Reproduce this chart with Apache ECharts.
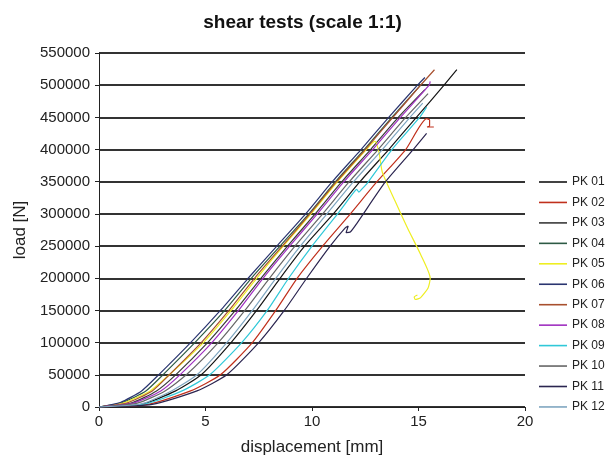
<!DOCTYPE html>
<html>
<head>
<meta charset="utf-8">
<script src="https://cdn.jsdelivr.net/npm/echarts/dist/echarts.min.js"></script>
<style>
  html, body { margin: 0; padding: 0; background: #fff; }
  #chart { width: 605px; height: 462px; }
</style>
</head>
<body>
<div id="chart"></div>
<script>
// [displacement mm, load N]
const pk01 = [[0,0],[2.0,4000],[3.6,25000],[4.8,50000],[6.2,100000],[7.4,150000],[8.5,200000],[9.65,250000],[11.0,300000],[12.25,350000],[13.6,400000],[14.9,450000],[16.2,500000],[16.8,524000]]
const pk02 = [[0,0],[2.3,4000],[4.3,25000],[5.7,50000],[7.2,100000],[8.3,150000],[9.3,200000],[10.5,250000],[11.8,300000],[13.05,350000],[14.4,400000],[15.38,448000],[15.52,446000],[15.52,437000],[15.4,435000],[15.72,435000]]
const pk03 = [[0,0],[1.5,6000],[2.7,25000],[3.6,50000],[5.1,100000],[6.4,150000],[7.6,200000],[8.85,250000],[10.15,300000],[11.4,350000],[12.75,400000],[14.05,450000],[15.3,493000]]
const pk04 = [[0,0],[1.1,7000],[2.2,25000],[3.0,50000],[4.5,100000],[5.9,150000],[7.15,200000],[8.5,250000],[9.85,300000],[11.1,350000],[12.45,400000],[13.75,450000],[15.15,502000]]
const pk05 = [[0,0],[1.2,7000],[2.4,25000],[3.3,50000],[4.9,100000],[6.2,150000],[7.4,200000],[8.65,250000],[9.95,300000],[11.2,350000],[12.55,400000],[12.95,413000],[13.15,395000],[13.3,365000],[13.9,320000],[14.5,277000],[15.1,237000],[15.55,200000],[15.45,185000],[15.1,170000],[14.85,167000],[14.8,171000],[14.95,174000]]
const pk06 = [[0,0],[1.0,7000],[2.0,25000],[2.8,50000],[4.3,100000],[5.7,150000],[7.0,200000],[8.35,250000],[9.7,300000],[10.95,350000],[12.3,400000],[13.6,450000],[14.95,500000],[15.3,512000]]
const pk07 = [[0,0],[1.3,6000],[2.5,25000],[3.3,50000],[4.8,100000],[6.1,150000],[7.3,200000],[8.6,250000],[9.9,300000],[11.15,350000],[12.5,400000],[13.8,450000],[15.1,500000],[15.75,524000]]
const pk08 = [[0,0],[1.6,6000],[2.9,25000],[3.8,50000],[5.3,100000],[6.55,150000],[7.7,200000],[8.95,250000],[10.25,300000],[11.5,350000],[12.85,400000],[14.15,450000],[15.5,500000],[15.55,506000]]
const pk09 = [[0,0],[2.2,5000],[3.9,25000],[5.2,50000],[6.7,100000],[7.9,150000],[8.9,200000],[10.0,250000],[11.2,300000],[11.95,333000],[12.1,338000],[12.2,334000],[12.35,339000],[12.6,348000],[13.75,400000],[15.05,450000],[15.38,466000]]
const pk10 = [[0,0],[1.8,6000],[3.1,25000],[4.1,50000],[5.6,100000],[6.85,150000],[8.0,200000],[9.2,250000],[10.5,300000],[11.75,350000],[13.1,400000],[14.4,450000],[15.45,487000]]
const pk11 = [[0,0],[2.5,4000],[4.6,25000],[6.0,50000],[7.5,100000],[8.7,150000],[9.75,200000],[10.85,250000],[11.55,278000],[11.7,281000],[11.6,271000],[11.8,272000],[12.1,285000],[13.45,350000],[14.75,400000],[15.38,425000]]
const pk12 = [[0,0],[2.0,5000],[3.4,25000],[4.6,50000],[6.0,100000],[7.2,150000],[8.3,200000],[9.45,250000],[10.7,300000],[11.95,350000],[13.3,400000],[14.6,450000],[15.2,472000]]

const names = ['PK 01', 'PK 02', 'PK 03', 'PK 04', 'PK 05', 'PK 06', 'PK 07', 'PK 08', 'PK 09', 'PK 10', 'PK 11', 'PK 12']
const curves = [pk01, pk02, pk03, pk04, pk05, pk06, pk07, pk08, pk09, pk10, pk11, pk12]
const colors = ['#151515', '#c0301c', '#3a3a3a', '#2d5a45', '#eeee22', '#2a3570', '#a8502e', '#a030c0', '#30c8d8', '#666666', '#2b2550', '#7fa6c0']

const chart = echarts.init(document.getElementById('chart'))

chart.setOption({
  backgroundColor: '#fff',
  animation: false,
  textStyle: { fontFamily: 'Liberation Sans, Arial, sans-serif' },
  title: {
    text: 'shear tests (scale 1:1)',
    left: 'center',
    top: 8,
    textStyle: { fontSize: 19, fontWeight: 'bold', color: '#111' }
  },
  legend: {
    orient: 'vertical',
    left: 539,
    top: 175,
    padding: 0,
    icon: 'rect',
    itemWidth: 28,
    itemHeight: 1.6,
    itemGap: 6.45,
    data: names,
    textStyle: { fontSize: 12, lineHeight: 14, color: '#222' }
  },
  grid: { left: 99, right: 80, top: 53, bottom: 55 },
  xAxis: {
    type: 'value',
    min: 0,
    max: 20,
    interval: 5,
    name: 'displacement [mm]',
    nameLocation: 'middle',
    nameGap: 32,
    nameTextStyle: { fontSize: 17, color: '#222' },
    axisLine: { lineStyle: { color: '#222', width: 1 } },
    axisTick: { show: true, length: 4, lineStyle: { color: '#222' } },
    axisLabel: { fontSize: 15, color: '#222', margin: 7 },
    splitLine: { show: false }
  },
  yAxis: {
    type: 'value',
    min: 0,
    max: 550000,
    interval: 50000,
    name: 'load [N]',
    nameLocation: 'middle',
    nameGap: 68,
    nameTextStyle: { fontSize: 17, color: '#222' },
    axisLine: { show: true, lineStyle: { color: '#222', width: 1 } },
    axisTick: { show: true, length: 4, lineStyle: { color: '#222' } },
    axisLabel: { fontSize: 15, color: '#222', margin: 9, formatter: v => String(v) },
    splitLine: { lineStyle: { color: '#333', width: 2 } }
  },
  series: curves.map((d, i) => ({
    name: names[i],
    type: 'line',
    data: d,
    symbol: 'none',
    smooth: 0.2,
    color: colors[i],
    lineStyle: { width: 1.2, color: colors[i] }
  }))
})
</script>
</body>
</html>
